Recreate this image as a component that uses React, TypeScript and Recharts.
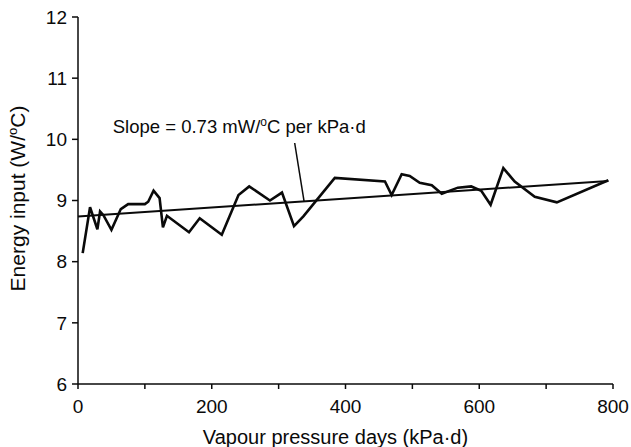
import { LineChart, Line, XAxis, YAxis, ReferenceLine, ReferenceDot, Label } from 'recharts'

// vapour pressure days (kPa·d) and energy input (W/°C)
const vpd = [
  7, 18, 29, 33, 38, 50, 64, 75, 100, 105, 113, 122, 127, 133, 166, 182, 215, 240,
  256, 287, 305, 323, 337, 384, 459, 469, 484, 496, 511, 529, 544, 568, 588, 603,
  617, 636, 653, 683, 716, 793,
]
const energy = [
  8.14, 8.89, 8.53, 8.82, 8.76, 8.52, 8.86, 8.94, 8.94, 8.98, 9.16, 9.04, 8.56, 8.75,
  8.48, 8.71, 8.44, 9.09, 9.23, 9.0, 9.13, 8.58, 8.74, 9.37, 9.31, 9.09, 9.43, 9.4,
  9.29, 9.25, 9.11, 9.21, 9.23, 9.16, 8.93, 9.53, 9.31, 9.06, 8.97, 9.33,
]

// fitted line, slope 0.73 mW/°C per kPa·d
const trendX = [0, 793]
const trendY = [8.74, 9.32]

// leader from the annotation down to the fitted line
const leaderX = [324, 338]
const leaderY = [9.94, 8.99]

const xTicks = [0, 100, 200, 300, 400, 500, 600, 700, 800]
const yTicks = [6, 7, 8, 9, 10, 11, 12]

const data = vpd.map((x, i) => ({ x, y: energy[i] }))

const FONT = '"Liberation Sans", Arial, Helvetica, sans-serif'
const INK = '#0a0a0a'

export default function App() {
  return (
    <div style={{ position: 'absolute', left: 0, top: 0, background: '#fff' }}>
      <LineChart
        width={631}
        height={447}
        data={data}
        margin={{ top: 17, right: 18, bottom: 0, left: 0 }}
        style={{ fontFamily: FONT }}
      >
        <XAxis
          dataKey="x"
          type="number"
          domain={[0, 800]}
          ticks={xTicks}
          tickFormatter={(v) => (v % 200 === 0 ? String(v) : '')}
          interval={0}
          height={63}
          tickSize={5}
          tickMargin={11}
          stroke={INK}
          strokeWidth={1.5}
          tick={{ fill: INK, fontSize: 19 }}
        >
          <Label
            content={({ viewBox }) => {
              // eslint-disable-next-line @typescript-eslint/no-explicit-any
              const { x, y, width } = viewBox as any
              return (
                <text x={x + width / 2 - 10} y={y + 60} textAnchor="middle" fontSize={20} fill={INK}>
                  Vapour pressure days (kPa·d)
                </text>
              )
            }}
          />
        </XAxis>
        <YAxis
          dataKey="y"
          type="number"
          domain={[6, 12]}
          ticks={yTicks}
          interval={0}
          width={78}
          tickSize={6}
          tickMargin={5}
          stroke={INK}
          strokeWidth={1.5}
          tick={{ fill: INK, fontSize: 19 }}
        >
          <Label
            content={({ viewBox }) => {
              // eslint-disable-next-line @typescript-eslint/no-explicit-any
              const { x, y, height } = viewBox as any
              const cx = x + 25
              const cy = y + height / 2 - 2
              return (
                <text
                  x={cx}
                  y={cy}
                  textAnchor="middle"
                  fontSize={21}
                  fill={INK}
                  transform={`rotate(-90 ${cx} ${cy})`}
                >
                  Energy input (W/
                  <tspan fontSize={13} dy={-8}>o</tspan>
                  <tspan dy={8}>C)</tspan>
                </text>
              )
            }}
          />
        </YAxis>
        <ReferenceLine
          segment={[
            { x: trendX[0], y: trendY[0] },
            { x: trendX[1], y: trendY[1] },
          ]}
          stroke={INK}
          strokeWidth={2}
          ifOverflow="visible"
        />
        <ReferenceLine
          segment={[
            { x: leaderX[0], y: leaderY[0] },
            { x: leaderX[1], y: leaderY[1] },
          ]}
          stroke={INK}
          strokeWidth={1.5}
          ifOverflow="visible"
        />
        <ReferenceDot
          x={52}
          y={10.1}
          r={0}
          ifOverflow="visible"
          label={{
            content: ({ viewBox }: any) => {
              const { x, y } = viewBox
              return (
                <text x={x} y={y} fontSize={18.5} fill={INK}>
                  Slope = 0.73 mW/
                  <tspan fontSize={12} dy={-7}>o</tspan>
                  <tspan dy={7}>C per kPa·d</tspan>
                </text>
              )
            },
          }}
        />
        <Line
          dataKey="y"
          type="linear"
          stroke={INK}
          strokeWidth={2.6}
          dot={false}
          isAnimationActive={false}
        />
      </LineChart>
    </div>
  )
}
